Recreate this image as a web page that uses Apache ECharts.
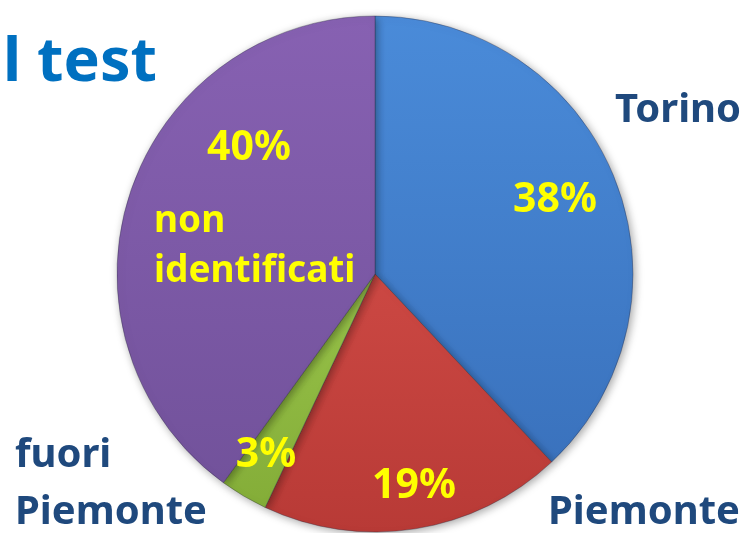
<!DOCTYPE html>
<html>
<head>
<meta charset="utf-8">
<script src="https://cdn.jsdelivr.net/npm/echarts@6/dist/echarts.min.js"></script>
<style>
  html, body { margin: 0; padding: 0; background: #fff; }
  #chart { width: 744px; height: 533px; }
</style>
</head>
<body>
<div id="chart"></div>
<script>
// dati del grafico
var categories = ['Torino', 'Piemonte', 'fuori Piemonte', 'non identificati']
var values = [38, 19, 3, 40]
var topColors = ['#4a8bd9', '#cc4843', '#98c34a', '#8761b2']
var bottomColors = ['#3a72bd', '#b83a36', '#84ad38', '#72529b']

// posizioni delle etichette (percentuali e nomi)
var pctPos = [[555, 200], [414, 486], [266, 455], [249, 148]]
var namePos = [[615, 111, 'left'], [548, 513, 'left'], [15, 484, 'left'], [154, 246, 'left']]

var chart = echarts.init(document.getElementById('chart'))

var sliceData = categories.map(function (name, i) {
  return {
    name: name,
    value: values[i],
    itemStyle: {
      color: new echarts.graphic.LinearGradient(0, 0, 0, 1, [
        { offset: 0, color: topColors[i] },
        { offset: 1, color: bottomColors[i] }
      ])
    }
  }
})

var font = '"Noto Sans", sans-serif'

var option = {
  backgroundColor: '#ffffff',
  animation: false,
  title: {
    text: 'l test',
    left: -2,
    top: 28,
    textStyle: { color: '#0070c0', fontSize: 61, fontWeight: 'bold', fontFamily: font }
  },
  series: [
    {
      // torta con le percentuali
      type: 'pie',
      center: [375, 274],
      radius: 258,
      startAngle: 90,
      clockwise: true,
      silent: true,
      itemStyle: {
        borderColor: 'rgba(40,40,60,0.35)',
        borderWidth: 1,
        shadowBlur: 8,
        shadowColor: 'rgba(0,0,0,0.35)',
        shadowOffsetX: 2,
        shadowOffsetY: 2
      },
      label: {
        show: true,
        position: 'inside',
        formatter: '{d}%',
        color: '#ffff00',
        fontSize: 41,
        fontWeight: 'bold',
        fontFamily: font
      },
      labelLine: { show: false },
      labelLayout: function (p) {
        var pos = pctPos[p.dataIndex]
        return { x: pos[0], y: pos[1], align: 'center', verticalAlign: 'middle' }
      },
      data: sliceData
    },
    {
      // solo nomi delle categorie
      type: 'pie',
      center: [375, 274],
      radius: 258,
      startAngle: 90,
      clockwise: true,
      silent: true,
      z: 5,
      itemStyle: { color: 'rgba(0,0,0,0)' },
      label: {
        show: true,
        position: 'inside',
        formatter: function (p) {
          if (p.dataIndex === 2) return 'fuori\nPiemonte'
          if (p.dataIndex === 3) return 'non\nidentificati'
          return p.name
        },
        color: '#1f497d',
        fontSize: 40,
        lineHeight: 57,
        fontWeight: 'bold',
        fontFamily: font
      },
      labelLine: { show: false },
      labelLayout: function (p) {
        var pos = namePos[p.dataIndex]
        return { x: pos[0], y: pos[1], align: pos[2], verticalAlign: 'middle' }
      },
      data: categories.map(function (name, i) {
        var d = { name: name, value: values[i] }
        if (i === 3) d.label = { color: '#ffff00', fontSize: 37, lineHeight: 50 }
        return d
      })
    }
  ]
}

chart.setOption(option)
</script>
</body>
</html>
